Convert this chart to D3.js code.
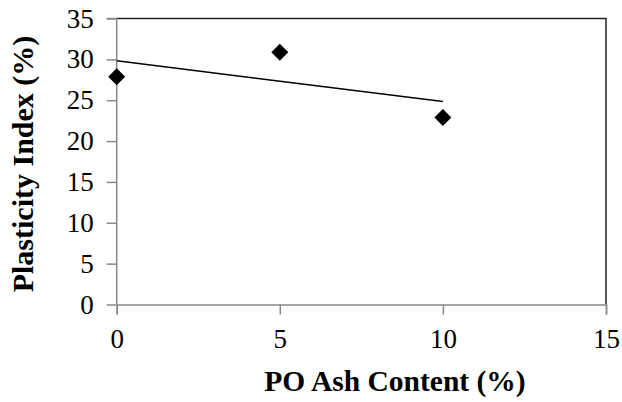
<!DOCTYPE html>
<html>
<head>
<meta charset="utf-8">
<script src="https://cdn.jsdelivr.net/npm/d3@7"></script>
<style>
  html, body { margin: 0; padding: 0; background: #fff; font-family: "Liberation Serif"; }
  svg { display: block; }
</style>
</head>
<body>
<svg id="chart" width="622" height="402" font-family="Liberation Serif"></svg>
<script>
// Measured data: plasticity index vs. PO ash content
const ashContent = [0, 5, 10];
const plasticityIndex = [28, 31, 23];
const xTicks = [0, 5, 10, 15];
const yTicks = [0, 5, 10, 15, 20, 25, 30, 35];
const xTitle = "PO Ash Content (%)";
const yTitle = "Plasticity Index (%)";

const fontName = "Liberation Serif";
const svg = d3.select("#chart");
const plotLeft = 116.7, plotRight = 606, plotTop = 18.5, plotBottom = 304.5;

const x = d3.scaleLinear().domain([0, 15]).range([plotLeft, plotRight]);
const y = d3.scaleLinear().domain([0, 35]).range([plotBottom, plotTop]);

// Least-squares linear trendline over the measured points
const mx = d3.mean(ashContent), my = d3.mean(plasticityIndex);
const slope = d3.sum(ashContent, (v, i) => (v - mx) * (plasticityIndex[i] - my)) /
              d3.sum(ashContent, v => (v - mx) * (v - mx));
const intercept = my - slope * mx;
const trend = d3.extent(ashContent).map(v => [v, intercept + slope * v]);

// Plot area frame (top and right edges)
svg.append("path")
  .attr("d", `M${x(0)},${y(35)}H${x(15)}V${y(0)}`)
  .attr("fill", "none")
  .attr("stroke", "#222")
  .attr("stroke-width", 1.5);

// Axes
const xAxis = d3.axisBottom(x).tickValues(xTicks).tickSize(10).tickPadding(14).tickFormat(d3.format("d"));
const yAxis = d3.axisLeft(y).tickValues(yTicks).tickSize(10).tickPadding(13).tickFormat(d3.format("d"));

const gx = svg.append("g").attr("transform", `translate(0,${y(0)})`).call(xAxis);
const gy = svg.append("g").attr("transform", `translate(${x(0)},0)`).call(yAxis);

[gx, gy].forEach(g => {
  g.attr("font-family", fontName).attr("font-size", 27);
  g.select(".domain").attr("stroke", "#888").attr("stroke-width", 1.5);
  g.selectAll(".tick line").attr("stroke", "#888").attr("stroke-width", 1.5);
  g.selectAll(".tick text")
    .attr("font-family", fontName)
    .attr("font-size", 27)
    .attr("fill", "#000");
});
gy.select(".domain").attr("d", `M${-10},${y(35)}H0V${y(0)}`);
gx.selectAll(".tick text").attr("dy", "0.71em");

// Trendline
svg.append("path")
  .datum(trend)
  .attr("d", d3.line().x(d => x(d[0])).y(d => y(d[1])))
  .attr("fill", "none")
  .attr("stroke", "#000")
  .attr("stroke-width", 1.5);

// Diamond markers
const diamond = d3.symbol().type(d3.symbolSquare).size(144);
svg.append("g").selectAll("path")
  .data(ashContent.map((v, i) => [v, plasticityIndex[i]]))
  .join("path")
  .attr("d", diamond)
  .attr("transform", d => `translate(${x(d[0])},${y(d[1]) + 1}) rotate(45)`)
  .attr("fill", "#000");

// Axis titles
svg.append("text")
  .attr("x", 395)
  .attr("y", 391)
  .attr("text-anchor", "middle")
  .attr("font-family", fontName)
  .attr("font-size", 29.5)
  .attr("font-weight", "bold")
  .attr("fill", "#000")
  .text(xTitle);

svg.append("text")
  .attr("transform", "translate(33,164) rotate(-90)")
  .attr("text-anchor", "middle")
  .attr("font-family", fontName)
  .attr("font-size", 30)
  .attr("font-weight", "bold")
  .attr("fill", "#000")
  .text(yTitle);
</script>
</body>
</html>
